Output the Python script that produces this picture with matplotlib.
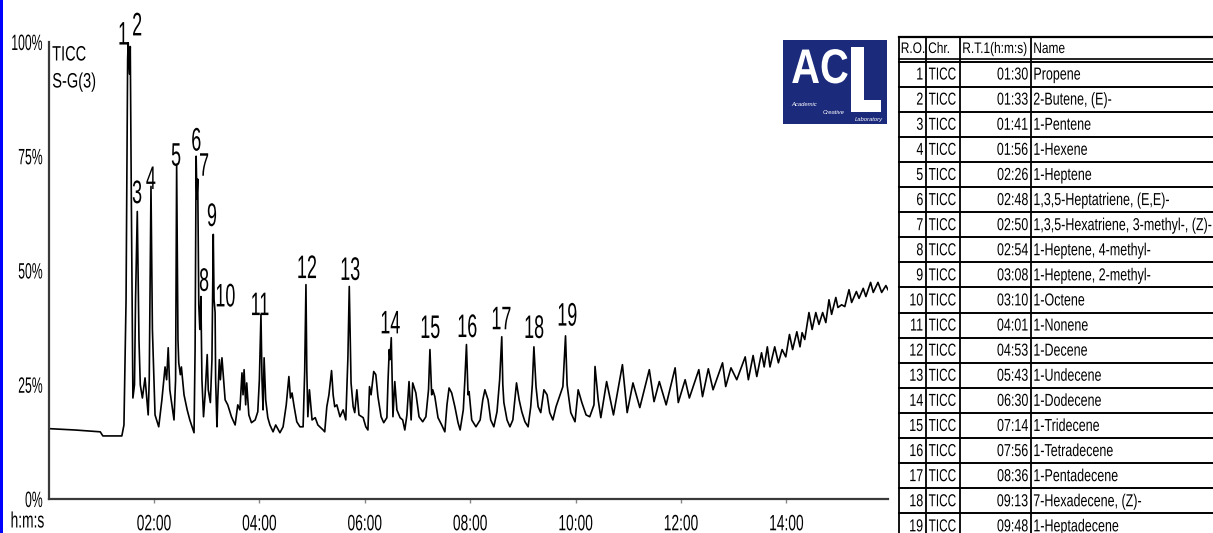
import matplotlib
matplotlib.use("Agg")
import matplotlib.pyplot as plt
from matplotlib.patches import Rectangle
from matplotlib.patheffects import AbstractPathEffect
from matplotlib.transforms import Affine2D

# TIC trace: time (min) / intensity (% of max)
t_early = [0.0, 0.50, 0.98, 1.03, 1.39, 1.43, 1.47, 1.50, 1.51, 1.535, 1.55, 1.57,
           1.60, 1.63, 1.65, 1.683, 1.715, 1.74, 1.78, 1.83, 1.89, 1.91, 1.943, 1.97,
           2.02, 2.09, 2.15, 2.21, 2.24, 2.27, 2.30, 2.38, 2.41, 2.43, 2.455, 2.47,
           2.50, 2.52, 2.57, 2.63, 2.68, 2.76, 2.78, 2.80, 2.815, 2.83, 2.85, 2.87,
           2.89, 2.91, 2.94, 2.97, 3.01, 3.03, 3.07, 3.10, 3.125, 3.14, 3.16, 3.17,
           3.195, 3.21, 3.24, 3.26, 3.29, 3.35, 3.40, 3.47, 3.54, 3.59, 3.63, 3.67,
           3.69, 3.71, 3.74, 3.76, 3.80, 3.85, 3.92, 3.97]
v_early = [15.4, 15.1, 14.7, 13.8, 13.8, 16.2, 43.6, 96.3, 100.0, 93.0, 99.0, 65.6,
           22.1, 25.0, 43.6, 62.9, 34.9, 25.0, 22.1, 26.5, 18.4, 26.1, 68.4, 37.1,
           18.4, 15.8, 21.7, 28.9, 26.1, 33.1, 23.9, 17.3, 26.1, 73.2, 34.9, 29.8,
           27.2, 28.9, 22.8, 19.5, 17.3, 14.5, 32.7, 75.0, 65.6, 70.0, 42.5, 37.1,
           44.3, 26.1, 18.0, 22.8, 31.6, 23.9, 21.1, 30.5, 57.9, 43.6, 40.8, 26.1,
           15.8, 21.7, 30.5, 26.1, 30.9, 21.7, 20.6, 18.0, 16.2, 20.6, 19.5, 27.6,
           22.8, 28.3, 20.6, 25.4, 18.4, 16.7, 17.3, 19.1]

t_mid = [4.00, 4.03, 4.05, 4.07, 4.09, 4.12, 4.16, 4.20, 4.26, 4.31, 4.39, 4.45,
         4.51, 4.56, 4.59, 4.62, 4.66, 4.71, 4.77, 4.83, 4.86, 4.884, 4.90, 4.92,
         4.95, 5.00, 5.06, 5.11, 5.21, 5.24, 5.28, 5.32, 5.37, 5.40, 5.43, 5.47,
         5.53, 5.59, 5.64, 5.68, 5.706, 5.74, 5.78, 5.81, 5.85, 5.89, 5.97, 6.02,
         6.06, 6.09, 6.12, 6.17, 6.21, 6.25, 6.31, 6.36, 6.42, 6.44, 6.465, 6.48,
         6.503, 6.535, 6.57, 6.61, 6.67, 6.72, 6.76, 6.80, 6.84, 6.88, 6.91, 6.97,
         7.03, 7.10, 7.16, 7.21, 7.237, 7.27, 7.29, 7.33, 7.39, 7.46, 7.52, 7.56,
         7.60, 7.65, 7.71, 7.77, 7.81, 7.87, 7.90, 7.93, 7.96, 7.98, 8.03, 8.11,
         8.19, 8.24, 8.28, 8.34, 8.39, 8.45, 8.51, 8.56, 8.60, 8.62, 8.64, 8.70,
         8.755, 8.81, 8.88, 8.93, 8.98, 9.04, 9.10, 9.15, 9.18, 9.21, 9.25, 9.29,
         9.34, 9.40, 9.46, 9.51, 9.57, 9.63, 9.76, 9.81, 9.84, 9.86, 9.91, 9.99]
v_mid = [26.1, 40.4, 26.1, 19.5, 30.9, 21.7, 17.8, 16.2, 14.7, 16.2, 14.5, 15.8,
         20.6, 26.8, 22.1, 23.2, 20.2, 16.9, 15.8, 15.8, 27.9, 46.9, 28.3, 18.0,
         23.9, 17.3, 17.8, 16.2, 15.1, 14.7, 20.2, 22.8, 28.1, 22.8, 20.2, 20.6,
         18.0, 19.5, 17.3, 30.9, 46.5, 25.4, 20.2, 18.9, 23.9, 18.4, 17.8, 15.8,
         15.1, 24.6, 22.8, 27.9, 27.2, 22.4, 18.0, 16.7, 17.8, 25.4, 32.7, 30.5,
         35.3, 18.0, 25.7, 19.5, 17.8, 17.3, 15.1, 18.4, 25.7, 17.3, 25.4, 23.2,
         18.0, 16.9, 18.0, 23.9, 32.7, 22.8, 23.9, 22.4, 17.8, 16.2, 14.7, 20.6,
         24.3, 23.2, 20.2, 16.7, 15.1, 19.5, 26.1, 33.8, 22.8, 23.5, 17.3, 15.8,
         17.3, 21.7, 23.9, 21.7, 17.3, 15.8, 19.1, 26.1, 35.5, 25.0, 21.1, 17.3,
         15.8, 17.3, 25.4, 21.7, 19.1, 16.9, 15.8, 20.2, 25.0, 33.3, 24.6, 20.2,
         18.9, 23.9, 22.8, 18.9, 17.3, 20.2, 24.6, 35.7, 25.0, 23.2, 18.9, 16.9]

t_late = [10.05, 10.12, 10.20, 10.27, 10.35, 10.37, 10.43, 10.48, 10.59, 10.72, 10.89, 10.98,
          11.09, 11.22, 11.40, 11.49, 11.59, 11.72, 11.89, 11.95, 12.08, 12.16, 12.34, 12.41,
          12.52, 12.61, 12.79, 12.85, 12.95, 13.06, 13.22, 13.28, 13.37, 13.44, 13.53, 13.58,
          13.64, 13.69, 13.78, 13.85, 13.92, 13.99, 14.06, 14.12, 14.20, 14.26, 14.30, 14.35,
          14.43, 14.49, 14.56, 14.62, 14.69, 14.75, 14.81, 14.86, 14.94, 14.98, 15.05, 15.11,
          15.19, 15.24, 15.33, 15.38, 15.46, 15.51, 15.60, 15.65, 15.74, 15.81, 15.89, 15.93]
v_late = [23.9, 21.1, 18.4, 18.0, 20.6, 29.0, 21.7, 17.8, 25.7, 18.4, 29.4, 18.9,
          25.4, 20.0, 28.3, 21.3, 25.7, 20.6, 28.7, 21.1, 26.1, 22.1, 28.3, 22.4,
          28.5, 23.9, 29.8, 24.6, 28.7, 26.1, 31.1, 26.1, 31.4, 26.8, 32.0, 28.9,
          33.3, 28.9, 33.3, 29.8, 32.7, 31.1, 36.0, 32.7, 36.6, 33.3, 36.4, 34.9,
          40.8, 37.1, 40.8, 38.2, 40.8, 38.6, 43.6, 40.4, 44.1, 41.9, 42.5, 42.1,
          45.8, 43.0, 45.4, 43.9, 46.1, 44.3, 47.4, 45.2, 47.4, 45.2, 46.7, 45.8]

# peak table
peak_no = list(range(1, 20))
chrom = ["TICC"] * 19
rt = ["01:30", "01:33", "01:41", "01:56", "02:26", "02:48", "02:50", "02:54", "03:08",
      "03:10", "04:01", "04:53", "05:43", "06:30", "07:14", "07:56", "08:36", "09:13",
      "09:48"]
names = ["Propene", "2-Butene, (E)-", "1-Pentene", "1-Hexene", "1-Heptene",
         "1,3,5-Heptatriene, (E,E)-", "1,3,5-Hexatriene, 3-methyl-, (Z)-",
         "1-Heptene, 4-methyl-", "1-Heptene, 2-methyl-", "1-Octene", "1-Nonene",
         "1-Decene", "1-Undecene", "1-Dodecene", "1-Tridecene", "1-Tetradecene",
         "1-Pentadecene", "7-Hexadecene, (Z)-", "1-Heptadecene"]

y_ticks = [0, 25, 50, 75, 100]
x_ticks = [2, 4, 6, 8, 10, 12, 14]
x_ticklabels = ["02:00", "04:00", "06:00", "08:00", "10:00", "12:00", "14:00"]

# where the peak numbers sit (time, %)
label_pos = [(1.41, 101.3), (1.68, 103.3), (1.68, 66.6), (1.943, 69.7), (2.42, 74.8),
             (2.80, 78.1), (2.95, 72.6), (2.95, 47.4), (3.10, 61.6), (3.35, 44.0),
             (4.01, 42.1), (4.90, 50.2), (5.72, 49.8), (6.48, 38.1), (7.24, 37.1),
             (7.94, 37.3), (8.59, 39.0), (9.21, 37.1), (9.84, 39.8)]

trace_t = t_early + t_mid + t_late
trace_v = v_early + v_mid + v_late
assert len(trace_t) == len(trace_v)


class Squeeze(AbstractPathEffect):
    """draw text narrower (printout uses a condensed gothic font)"""

    def __init__(self, sx=0.7, anchor=0.0):
        super().__init__()
        self.sx = sx
        self.anchor = anchor

    def draw_path(self, renderer, gc, tpath, affine, rgbFace=None):
        ext = tpath.get_extents()
        px = ext.x0 + self.anchor * ext.width
        tr = Affine2D().translate(-px, 0).scale(self.sx, 1).translate(px, 0) + affine
        renderer.draw_path(gc, tpath, tr, rgbFace)


ANCHOR = {"left": 0.0, "center": 0.5, "right": 1.0}
FAM = "Liberation Sans"
plt.rcParams["font.family"] = [FAM, "DejaVu Sans"]


def ntext(target, x, y, s, sx=0.7, ha="left", **kw):
    # narrow text helper
    t = target.text(x, y, s, ha=ha, **kw)
    t.set_path_effects([Squeeze(sx, ANCHOR[ha])])
    return t


W, H = 1213, 533
fig = plt.figure(figsize=(W / 100, H / 100), dpi=100)

# overlay in pixel units for frame, logo and table
ov = fig.add_axes([0, 0, 1, 1])
ov.set_xlim(0, W)
ov.set_ylim(H, 0)
ov.axis("off")

ov.add_patch(Rectangle((0, 0), 3, H, color="#0000ff", lw=0))

# logo
navy = "#1c2a7c"
ov.add_patch(Rectangle((783, 40), 104, 84, color=navy, lw=0))
ntext(ov, 791, 83, "AC", sx=0.82, color="white", fontsize=35, fontweight="bold",
      va="baseline")
ov.add_patch(Rectangle((851, 47), 13, 65, color="white", lw=0))
ov.add_patch(Rectangle((851, 100), 30, 12, color="white", lw=0))
ov.text(791, 104, "Academic", color="white", fontsize=4.2, style="italic", va="center")
ov.text(823, 112, "Creative", color="white", fontsize=4.2, style="italic", va="center")
ov.text(855, 119, "Laboratory", color="white", fontsize=4.2, style="italic", va="center")

# table
tx0 = 899
col_x = [899, 925.7, 960, 1030.7]
top, head_bot, row_h = 37, 61.5, 25.1
ov.plot([tx0, W], [top, top], color="black", lw=1.6)
ov.plot([tx0, W], [head_bot - 2.5, head_bot - 2.5], color="black", lw=1.2)
for i in range(20):
    y = head_bot + i * row_h
    ov.plot([tx0, W], [y, y], color="black", lw=1.4)
for x in col_x:
    ov.plot([x, x], [top, H], color="black", lw=1.3)

hy = (top + head_bot - 2.5) / 2 + 1
for x, s in zip([900.5, 928, 962, 1033], ["R.O.", "Chr.", "R.T.1(h:m:s)", "Name"]):
    ntext(ov, x, hy, s, sx=0.78, fontsize=11, va="center")
for i in range(19):
    y = head_bot + (i + 0.5) * row_h + 1
    ntext(ov, 923.5, y, str(peak_no[i]), sx=0.72, fontsize=12.5, va="center", ha="right")
    ntext(ov, 928.5, y, chrom[i], sx=0.68, fontsize=12.5, va="center")
    ntext(ov, 1028.5, y, rt[i], sx=0.72, fontsize=12.5, va="center", ha="right")
    ntext(ov, 1033, y, names[i], sx=0.72, fontsize=12.5, va="center")

# chromatogram
ax = fig.add_axes([48.6 / W, 1 - 499 / H, (888 - 48.6) / W, (499 - 42) / H])
ax.patch.set_alpha(0)
ax.plot(trace_t, trace_v, color="black", lw=1.2)
ax.set_xlim(0, 15.93)
ax.set_ylim(0, 100)
for s in ["top", "right"]:
    ax.spines[s].set_visible(False)
for s in ["left", "bottom"]:
    ax.spines[s].set_color("#3a3a3a")
    ax.spines[s].set_linewidth(1.6)
ax.set_yticks(y_ticks, labels=[f"{v}%" for v in y_ticks])
ax.set_xticks(x_ticks, labels=x_ticklabels)
ax.tick_params(axis="y", length=0, pad=4, labelsize=16)
ax.tick_params(axis="x", length=3, width=1, color="#888888", pad=8, labelsize=16)
for lab in ax.get_yticklabels():
    lab.set_path_effects([Squeeze(0.55, 1.0)])
for lab in ax.get_xticklabels():
    lab.set_path_effects([Squeeze(0.62, 0.5)])

for n, (lt, lv) in zip(peak_no, label_pos):
    ntext(ax, lt, lv, str(n), sx=0.55, ha="center", va="center", fontsize=23.5,
          clip_on=False)

ntext(fig, 10 / W, 1 - 522 / H, "h:m:s", sx=0.62, fontsize=16, va="center")
ntext(fig, 52 / W, 1 - 55 / H, "TICC", sx=0.7, fontsize=15, va="center")
ntext(fig, 52 / W, 1 - 82 / H, "S-G(3)", sx=0.7, fontsize=15, va="center")

fig.savefig("out.png", dpi=100)
